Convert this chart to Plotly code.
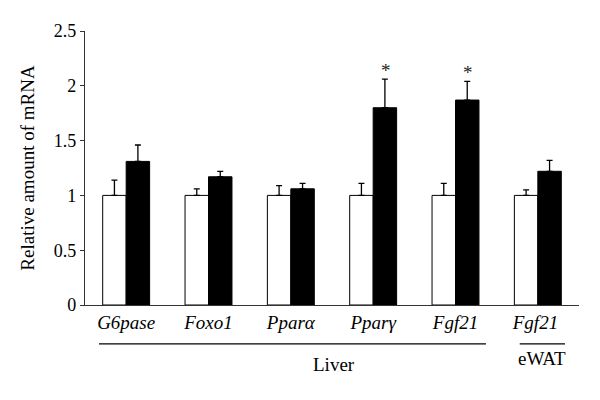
import plotly.graph_objects as go

genes = ["<i>G6pase</i>", "<i>Foxo1</i>", "<i>Ppar\u03b1</i>", "<i>Ppar\u03b3</i>", "<i>Fgf21</i>", "<i>Fgf21</i> "]
control = [1.0, 1.0, 1.0, 1.0, 1.0, 1.0]
control_err = [0.14, 0.06, 0.09, 0.11, 0.11, 0.05]
treated = [1.31, 1.17, 1.06, 1.80, 1.87, 1.22]
treated_err = [0.15, 0.05, 0.05, 0.26, 0.17, 0.10]
significant = [False, False, False, True, True, False]

FONT = "Liberation Serif, Times New Roman, serif"

fig = go.Figure()
fig.add_trace(go.Bar(
    x=genes, y=control, name="Control",
    marker=dict(color="white", line=dict(color="black", width=1)),
    error_y=dict(type="data", array=control_err, symmetric=False, arrayminus=[0] * 6,
                 color="black", thickness=1.3, width=3),
))
fig.add_trace(go.Bar(
    x=genes, y=treated, name="Treated",
    marker=dict(color="black", line=dict(color="black", width=1)),
    error_y=dict(type="data", array=treated_err, symmetric=False, arrayminus=[0] * 6,
                 color="black", thickness=1.3, width=3),
))

# significance stars above the treated bars
for i, (v, e, s) in enumerate(zip(treated, treated_err, significant)):
    if s:
        fig.add_annotation(x=i + 0.15, y=v + e, text="*", showarrow=False,
                           yanchor="bottom", yshift=-4,
                           font=dict(family=FONT, size=19, color="#222"))

# tissue group lines and labels
groups = [("Liver", -0.33, 4.37, 2.52, -0.17), ("eWAT", 4.78, 5.33, 5.05, -0.15)]
for name, x0, x1, xc, ylab in groups:
    fig.add_shape(type="line", xref="x", yref="paper", x0=x0, x1=x1, y0=-0.142, y1=-0.142,
                  line=dict(color="black", width=1.3))
    fig.add_annotation(x=xc, y=ylab, xref="x", yref="paper", text=name, showarrow=False,
                       yanchor="top", font=dict(family=FONT, size=19, color="black"))

# the page body adds an 8px offset, so the figure is sized to fit inside the window
fig.update_layout(
    width=592, height=392,
    margin=dict(l=77, r=21, t=23, b=95),
    plot_bgcolor="white", paper_bgcolor="white",
    barmode="group", bargap=0.43, bargroupgap=0,
    showlegend=False,
    font=dict(family=FONT, size=19, color="black"),
)
fig.update_yaxes(
    range=[0, 2.5], tickvals=[0, 0.5, 1, 1.5, 2, 2.5],
    ticktext=["0", "0.5", "1", "1.5", "2", "2.5"],
    showline=True, linecolor="#333", linewidth=1.3,
    ticks="outside", ticklen=4, tickcolor="#333",
    showgrid=False, zeroline=False, automargin=False,
    tickfont=dict(size=18),
    title=dict(text="Relative amount of mRNA", standoff=14, font=dict(size=19)),
)
fig.update_xaxes(
    showline=True, linecolor="#333", linewidth=1.3, automargin=False,
    ticks="", showgrid=False, tickfont=dict(size=19),
)

fig.write_html("out.html")
